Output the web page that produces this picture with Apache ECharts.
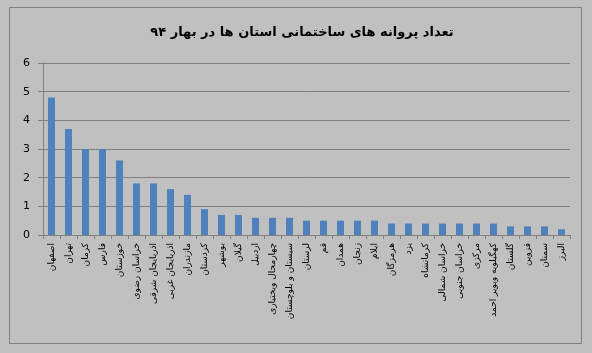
<!DOCTYPE html>
<html>
<head>
<meta charset="utf-8">
<script src="https://cdn.jsdelivr.net/npm/echarts@6/dist/echarts.min.js"></script>
<style>
  html, body { margin: 0; padding: 0; background: #c0c0c0; }
  #chart { width: 592px; height: 353px; }
</style>
</head>
<body>
<div id="chart"></div>
<script>
// استان ها
const provinces = [
  'اصفهان', 'تهران', 'کرمان', 'فارس', 'خوزستان', 'خراسان رضوی',
  'اذربایجان شرقی', 'اذربایجان غربی', 'مازندران', 'کردستان', 'بوشهر',
  'گیلان', 'اردبیل', 'چهارمحال وبختیاری', 'سیستان و بلوچستان', 'لرستان',
  'قم', 'همدان', 'زنجان', 'ایلام', 'هرمزگان', 'یزد', 'کرمانشاه',
  'خراسان شمالی', 'خراسان جنوبی', 'مرکزی', 'کهگیلویه وبویر احمد',
  'گلستان', 'قزوین', 'سمنان', 'البرز'
];
const permits = [
  4.8, 3.7, 3.0, 3.0, 2.6, 1.8,
  1.8, 1.6, 1.4, 0.9, 0.7,
  0.7, 0.6, 0.6, 0.6, 0.5,
  0.5, 0.5, 0.5, 0.5, 0.4, 0.4, 0.4,
  0.4, 0.4, 0.4, 0.4,
  0.3, 0.3, 0.3, 0.2
];
const yTicks = [0, 1, 2, 3, 4, 5, 6];

const chart = echarts.init(document.getElementById('chart'));
const option = {
  backgroundColor: '#c0c0c0',
  animation: false,
  title: {
    text: 'تعداد پروانه های ساختمانی استان ها در بهار ۹۴',
    left: 297,
    top: 21,
    textAlign: 'center',
    textStyle: {
      fontFamily: 'DejaVu Sans',
      fontSize: 13,
      fontWeight: 'bold',
      color: '#000'
    }
  },
  graphic: [
    {
      type: 'rect',
      shape: { x: 9.5, y: 7.5, width: 572, height: 336 },
      style: { fill: 'none', stroke: '#808080', lineWidth: 1 },
      silent: true
    }
  ],
  grid: { left: 43, right: 22, top: 63, bottom: 118 },
  xAxis: {
    type: 'category',
    data: provinces,
    axisLine: { lineStyle: { color: '#808080' } },
    axisTick: { show: true, length: 4, lineStyle: { color: '#808080' } },
    axisLabel: {
      interval: 0,
      rotate: 90,
      margin: 8,
      fontFamily: 'DejaVu Sans',
      fontSize: 9,
      color: '#000'
    }
  },
  yAxis: {
    type: 'value',
    min: yTicks[0],
    max: yTicks[yTicks.length - 1],
    interval: 1,
    axisLine: { show: true, lineStyle: { color: '#808080' } },
    axisTick: { show: true, length: 5, lineStyle: { color: '#808080' } },
    axisLabel: {
      margin: 13,
      fontFamily: 'DejaVu Sans',
      fontSize: 11,
      color: '#000'
    },
    splitLine: { lineStyle: { color: '#808080' } }
  },
  series: [
    {
      type: 'bar',
      data: permits,
      barWidth: 7,
      itemStyle: { color: '#4f81bd' }
    }
  ]
};
chart.setOption(option);
</script>
</body>
</html>
